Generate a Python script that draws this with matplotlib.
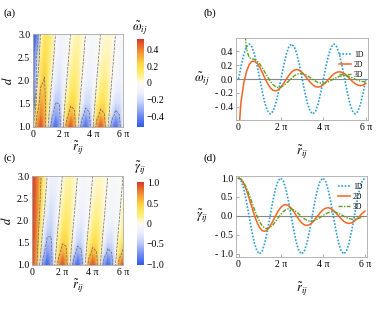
import matplotlib
matplotlib.use('Agg')
import matplotlib.pyplot as plt
import numpy as np
from matplotlib.colors import LinearSegmentedColormap

plt.rcParams['font.family'] = 'serif'
plt.rcParams['font.serif'] = ['Liberation Serif', 'DejaVu Serif']
plt.rcParams['mathtext.fontset'] = 'stix'

# ---- heat maps: rows are d, columns are r/pi in steps of 1/4 ----
map_d = [1.0, 1.25, 1.5, 1.75, 2.0, 2.5, 3.0]
map_r_pi = [0, 0.25, 0.5, 0.75, 1, 1.25, 1.5, 1.75, 2, 2.25, 2.5, 2.75, 3,
            3.25, 3.5, 3.75, 4, 4.25, 4.5, 4.75, 5, 5.25, 5.5, 5.75, 6]

omega_map = [
    [0, .354, .5, .354, 0, -.354, -.5, -.354, 0, .354, .5, .354, 0, -.354, -.5, -.354, 0, .354, .5, .354, 0, -.354, -.5, -.354, 0],
    [-.21, .24, .409, .329, .075, -.207, -.357, -.296, -.068, .192, .335, .280, .065, -.184, -.321, -.270, -.063, .177, .311, .262, .061, -.173, -.303, -.255, -.060],
    [-.5, .1, .339, .306, .118, -.112, -.258, -.248, -.099, .096, .227, .221, .090, -.088, -.209, -.205, -.084, .082, .196, .193, .079, -.078, -.186, -.184, -.076],
    [-1.2, .01, .279, .283, .144, -.047, -.185, -.206, -.111, .037, .153, .174, .096, -.033, -.135, -.155, -.086, .029, .123, .142, .079, -.027, -.114, -.132, -.074],
    [-2, -.055, .205, .257, .164, .006, -.125, -.17, -.112, 0, .10, .136, .092, 0, -.085, -.116, -.08, 0, .075, .103, .071, 0, -.068, -.094, -.065],
    [-2, -.22, .10, .209, .168, .059, -.052, -.110, -.100, -.038, .035, .079, .074, .029, -.028, -.062, -.060, -.024, .023, .052, .050, .020, -.019, -.045, -.044],
    [-2, -.45, 0, .15, .159, .09, 0, -.064, -.080, -.05, 0, .041, .053, .035, 0, -.03, -.04, -.026, 0, .024, .032, .021, 0, -.02, -.027],
]

gamma_map = [
    [1, .707, 0, -.707, -1, -.707, 0, .707, 1, .707, 0, -.707, -1, -.707, 0, .707, 1, .707, 0, -.707, -1, -.707, 0, .707, 1],
    [1, .76, .163, -.441, -.751, -.618, -.142, .396, .688, .574, .133, -.375, -.655, -.549, -.128, .361, .632, .530, .124, -.350, -.614, -.517, -.121, .342, .600],
    [1, .79, .281, -.254, -.570, -.540, -.214, .206, .480, .466, .188, -.183, -.433, -.426, -.173, .170, .403, .397, .162, -.160, -.382, -.377, -.154, .153, .365],
    [1, .83, .374, -.113, -.431, -.468, -.248, .082, .332, .376, .204, -.069, -.286, -.329, -.181, .062, .256, .295, .164, -.056, -.236, -.273, -.152, .052, .220],
    [1, .852, .472, .025, -.305, -.402, -.267, -.007, .221, .300, .205, .004, -.181, -.250, -.172, -.003, .158, .218, .151, .002, -.141, -.197, -.137, -.001, .129],
    [1, .88, .565, .173, -.140, -.285, -.249, -.092, .083, .183, .169, .065, -.061, -.140, -.133, -.052, .049, .114, .109, .044, -.042, -.097, -.093, -.038, .036],
    [1, .900, .637, .300, 0, -.180, -.212, -.129, 0, .100, .127, .082, 0, -.069, -.091, -.060, 0, .053, .071, .047, 0, -.043, -.058, -.039, 0],
]

# ---- line cuts: r/pi in steps of 1/8 ----
r_pi = [0, .125, .25, .375, .5, .625, .75, .875, 1, 1.125, 1.25, 1.375, 1.5, 1.625, 1.75, 1.875,
        2, 2.125, 2.25, 2.375, 2.5, 2.625, 2.75, 2.875, 3, 3.125, 3.25, 3.375, 3.5, 3.625, 3.75, 3.875,
        4, 4.125, 4.25, 4.375, 4.5, 4.625, 4.75, 4.875, 5, 5.125, 5.25, 5.375, 5.5, 5.625, 5.75, 5.875, 6]

omega_1d = [0, .191, .354, .462, .5, .462, .354, .191, 0, -.191, -.354, -.462, -.5, -.462, -.354, -.191,
            0, .191, .354, .462, .5, .462, .354, .191, 0, -.191, -.354, -.462, -.5, -.462, -.354, -.191,
            0, .191, .354, .462, .5, .462, .354, .191, 0, -.191, -.354, -.462, -.5, -.462, -.354, -.191, 0]
# 2D diverges at r -> 0: extra points near the origin
omega_2d_head_r_pi = [0.032, 0.048, 0.064, 0.095]
omega_2d_head = [-.767, -.64, -.54, -.404]
omega_2d = [-.308, -.051, .107, .205, .253, .253, .227, .166, .088, .006, -.068, -.127, -.162, -.170, -.153,
            -.115, -.062, -.003, .054, .099, .128, .136, .123, .093, .050, .002, -.046, -.084, -.109, -.116,
            -.106, -.080, -.043, -.001, .040, .074, .096, .103, .095, .072, .039, .001, -.037, -.067, -.087,
            -.094, -.086, -.065]
# 3D diverges upwards at r -> 0
omega_3d_head_r_pi = [0.2865, 0.3183, 0.3342]
omega_3d_head = [.847, .631, .557]
omega_3d = [.431, .304, .288, .280, .257, .215, .157, .092, .026, -.034, -.081, -.111, -.123, -.116, -.095,
            -.063, -.025, .012, .045, .068, .079, .079, .067, .046, .021, -.006, -.030, -.049, -.059, -.059,
            -.052, -.037, -.017, .004, .023, .038, .046, .048, .042, .030, .015, -.003, -.019, -.031, -.038, -.040]

gamma_1d = [1, .924, .707, .383, 0, -.383, -.707, -.924, -1, -.924, -.707, -.383, 0, .383, .707, .924,
            1, .924, .707, .383, 0, -.383, -.707, -.924, -1, -.924, -.707, -.383, 0, .383, .707, .924,
            1, .924, .707, .383, 0, -.383, -.707, -.924, -1, -.924, -.707, -.383, 0, .383, .707, .924, 1]
gamma_2d = [1, .962, .852, .682, .472, .245, .025, -.164, -.305, -.386, -.402, -.359, -.267, -.143, -.007, .120,
            .221, .283, .300, .272, .205, .110, .004, -.098, -.181, -.234, -.250, -.228, -.172, -.093, -.003, .085,
            .158, .204, .218, .200, .151, .082, .002, -.077, -.141, -.183, -.197, -.180, -.137, -.074, -.001, .070, .129]
gamma_3d = [1, .970, .881, .742, .568, .374, .178, -.002, -.152, -.260, -.321, -.334, -.304, -.239, -.151, -.055,
            .038, .115, .168, .193, .188, .157, .107, .046, -.017, -.072, -.113, -.135, -.135, -.116, -.082, -.038,
            .010, .052, .085, .103, .106, .092, .066, .032, -.006, -.041, -.068, -.084, -.087, -.076, -.055, -.027, .004]

xtick_vals = [0, 2, 4, 6]
xtick_text = ['0', '2 \u03c0', '4 \u03c0', '6 \u03c0']

cmap = LinearSegmentedColormap.from_list('temp', [
    (0.0, (0.20, 0.35, 0.90)),
    (0.1, (0.38, 0.50, 0.94)),
    (0.2, (0.60, 0.68, 0.96)),
    (0.3, (0.80, 0.85, 0.98)),
    (0.4, (0.94, 0.95, 0.99)),
    (0.5, (0.98, 0.98, 0.97)),
    (0.53, (1.0, 0.97, 0.80)),
    (0.58, (1.0, 0.94, 0.55)),
    (0.65, (1.0, 0.91, 0.38)),
    (0.72, (0.99, 0.85, 0.28)),
    (0.82, (0.96, 0.65, 0.22)),
    (0.92, (0.90, 0.42, 0.18)),
    (1.0, (0.84, 0.22, 0.15)),
])

fig = plt.figure(figsize=(3.9, 3.09), dpi=100)
W, H = 390.0, 309.0


def box(l, t, r, b):
    return [l / W, 1 - b / H, (r - l) / W, (b - t) / H]


def frame(ax):
    for s in ax.spines.values():
        s.set_color('#aaaaaa')
        s.set_linewidth(0.6)
    ax.tick_params(direction='in', length=2, width=0.5, color='#888888', labelsize=7, pad=2)
    ax.set_xticks(xtick_vals)
    ax.set_xticklabels(xtick_text)


def heatmap(rect, cbrect, values, vmax, levels, cticks, ctext, clabel, clabel_y):
    ax = fig.add_axes(box(*rect))
    R, D = np.meshgrid(np.array(map_r_pi), np.array(map_d))
    Z = np.array(values)
    m = ax.pcolormesh(R, D, Z, cmap=cmap, vmin=-vmax, vmax=vmax, shading='gouraud')
    ax.contour(R, D, Z, levels=levels, colors='#666666', linestyles='--', linewidths=0.5)
    ax.set_xlim(0, 6)
    ax.set_ylim(1, 3)
    ax.set_yticks([1.0, 1.5, 2.0, 2.5, 3.0])
    ax.set_yticklabels(['1.0', '1.5', '2.0', '2.5', '3.0'])
    frame(ax)
    ax.set_xlabel(r'$\tilde{r}_{ij}$', fontsize=9, labelpad=0)
    ax.set_ylabel(r'$d$', fontsize=9, labelpad=2)
    cax = fig.add_axes(box(*cbrect))
    cb = fig.colorbar(m, cax=cax)
    cb.outline.set_visible(False)
    cb.set_ticks(cticks)
    cb.set_ticklabels(ctext)
    cax.tick_params(length=0, labelsize=7, pad=2)
    fig.text(140 / W, 1 - clabel_y / H, clabel, fontsize=9, ha='center', va='center')
    return ax


def lineplot(rect, ylim, yticks, ytext, ylabel, ylabel_y, curves, legend_top):
    ax = fig.add_axes(box(*rect))
    ax.axhline(0, color='#888888', lw=0.8, zorder=1)
    for x, y, c, ls, lw, lab in curves:
        ax.plot(x, y, color=c, ls=ls, lw=lw, label=lab)
    ax.set_xlim(-0.12, 6.1)
    ax.set_ylim(*ylim)
    ax.set_yticks(yticks)
    ax.set_yticklabels(ytext)
    frame(ax)
    ax.set_xlabel(r'$\tilde{r}_{ij}$', fontsize=9, labelpad=8)
    fig.text(202 / W, 1 - ylabel_y / H, ylabel, fontsize=9, ha='center', va='center')
    ax.legend(loc='upper right', bbox_to_anchor=(1.0, legend_top), frameon=False, fontsize=5.5,
              handlelength=1.6, handletextpad=0.4, labelspacing=0.25, borderaxespad=0.2)
    return ax


c1, c2, c3 = '#2f9bd6', '#f26522', '#5f9e1f'
ls1, ls2, ls3 = (0, (1, 1)), '-', (0, (3, 1, 1, 1))

heatmap((33, 34, 123, 127), (137, 39, 144, 127), omega_map, 0.52, [-0.25, 0, 0.25],
        [-0.4, -0.2, 0, 0.2, 0.4], ['\u22120.4', '\u22120.2', '0', '0.2', '0.4'],
        r'$\tilde{\omega}_{ij}$', 28)
heatmap((32, 176, 123, 265), (137, 182, 144, 265), gamma_map, 1.02, [-0.5, 0, 0.5],
        [-1.0, -0.5, 0, 0.5, 1.0], ['\u22121.0', '\u22120.5', '0', '0.5', '1.0'],
        r'$\tilde{\gamma}_{ij}$', 168)

lineplot((236, 38, 368, 120), (-0.586, 0.586), [-0.4, -0.2, 0, 0.2, 0.4],
         ['- 0.4', '- 0.2', '0.0', '0.2', '0.4'], r'$\tilde{\omega}_{ij}$', 79,
         [(r_pi, omega_1d, c1, ls1, 1.2, '1D'),
          (omega_2d_head_r_pi + r_pi[1:], omega_2d_head + omega_2d, c2, ls2, 1.1, '2D'),
          (omega_3d_head_r_pi + r_pi[3:], omega_3d_head + omega_3d, c3, ls3, 1.0, '3D')], 0.9)
lineplot((236, 176, 367, 257), (-1.08, 1.053), [-1.0, -0.5, 0, 0.5, 1.0],
         ['- 1.0', '- 0.5', '0.0', '0.5', '1.0'], r'$\tilde{\gamma}_{ij}$', 216,
         [(r_pi, gamma_1d, c1, ls1, 1.2, '1D'),
          (r_pi, gamma_2d, c2, ls2, 1.1, '2D'),
          (r_pi, gamma_3d, c3, ls3, 1.0, '3D')], 0.97)

for txt, x, y in [('(a)', 4, 13), ('(b)', 203, 13), ('(c)', 4, 158), ('(d)', 203, 158)]:
    fig.text(x / W, 1 - y / H, txt, fontsize=8, ha='left', va='center')

fig.savefig('out.png', dpi=100)
